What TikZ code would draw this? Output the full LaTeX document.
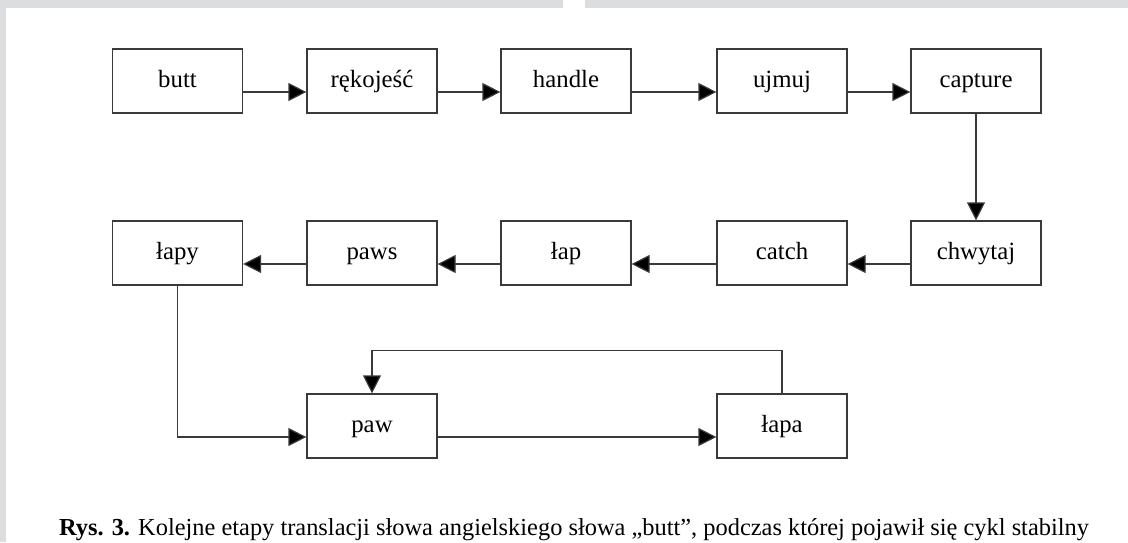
\documentclass[tikz,border=0pt]{standalone}
\usepackage{fontspec}
\setmainfont{Liberation Serif}
\usepackage{tikz}
\usetikzlibrary{arrows.meta, positioning, calc}
\usepackage{xcolor}
\definecolor{framegray}{HTML}{DCDDDF}
\definecolor{linegray}{HTML}{3A3A3A}

\begin{document}
\begin{tikzpicture}[x=0.5pt, y=-0.5pt, thick, >={Triangle[length=9pt, width=9pt]}]
		
		% Define styles
		\tikzstyle{word} = [rectangle, draw=linegray, line width=0.6pt, fill=white, text centered, minimum width=65pt, minimum height=32pt, inner sep=0pt, text height=8.5pt, text depth=2.5pt, font=\fontsize{12.4}{14}\selectfont]
		\tikzstyle{link} = [draw=linegray, line width=0.6pt, -{Triangle[length=9pt, width=9pt, fill=black]}]
		
		\useasboundingbox (0,0) rectangle (1128,542);
		
		% Page frame
		\fill[framegray] (0,0) rectangle (563,8);
		\fill[framegray] (585,0) rectangle (1128,8);
		\fill[framegray] (0,0) rectangle (6,542);
		
		% Nodes (first row)
		\node[word] (butt) at (177.5,81) {butt};
		\node[word] (rekojesc) at (372,81) {rękojeść};
		\node[word] (handle) at (566,81) {handle};
		\node[word] (ujmuj) at (782,81) {ujmuj};
		\node[word] (capture) at (976,81) {capture};
		
		% Nodes (second row)
		\node[word] (chwytaj) at (976,253) {chwytaj};
		\node[word] (catch) at (782,253) {catch};
		\node[word] (lap) at (566,253) {łap};
		\node[word] (paws) at (372,253) {paws};
		\node[word] (lapy) at (177.5,253) {łapy};
		
		% Nodes (cycle)
		\node[word] (paw) at (372,426) {paw};
		\node[word] (lapa) at (782,426) {łapa};
		
		% Arrows
		\draw[link] ([yshift=-5.5pt]butt.east) -- ([yshift=-5.5pt]rekojesc.west);
		\draw[link] ([yshift=-5.5pt]rekojesc.east) -- ([yshift=-5.5pt]handle.west);
		\draw[link] ([yshift=-5.5pt]handle.east) -- ([yshift=-5.5pt]ujmuj.west);
		\draw[link] ([yshift=-5.5pt]ujmuj.east) -- ([yshift=-5.5pt]capture.west);
		\draw[link] (capture.south) -- (chwytaj.north);
		\draw[link] ([yshift=-5.5pt]chwytaj.west) -- ([yshift=-5.5pt]catch.east);
		\draw[link] ([yshift=-5.5pt]catch.west) -- ([yshift=-5.5pt]lap.east);
		\draw[link] ([yshift=-5.5pt]lap.west) -- ([yshift=-5.5pt]paws.east);
		\draw[link] ([yshift=-5.5pt]paws.west) -- ([yshift=-5.5pt]lapy.east);
		\draw[link] (lapy.south) |- ([yshift=-5.5pt]paw.west);
		\draw[link] ([yshift=-5.5pt]paw.east) -- ([yshift=-5.5pt]lapa.west);
		
		% Cycle back
		\draw[link] (lapa.north) -- ++(0,-43) -| (paw.north);
		
		% Caption
		\node[font=\fontsize{12.2}{14}\selectfont, inner sep=0pt, anchor=base] (caption) at (574,535) {\textbf{Rys. 3.} Kolejne etapy translacji słowa angielskiego słowa „butt”, podczas której pojawił się cykl stabilny};
		
	\end{tikzpicture}
\end{document}
